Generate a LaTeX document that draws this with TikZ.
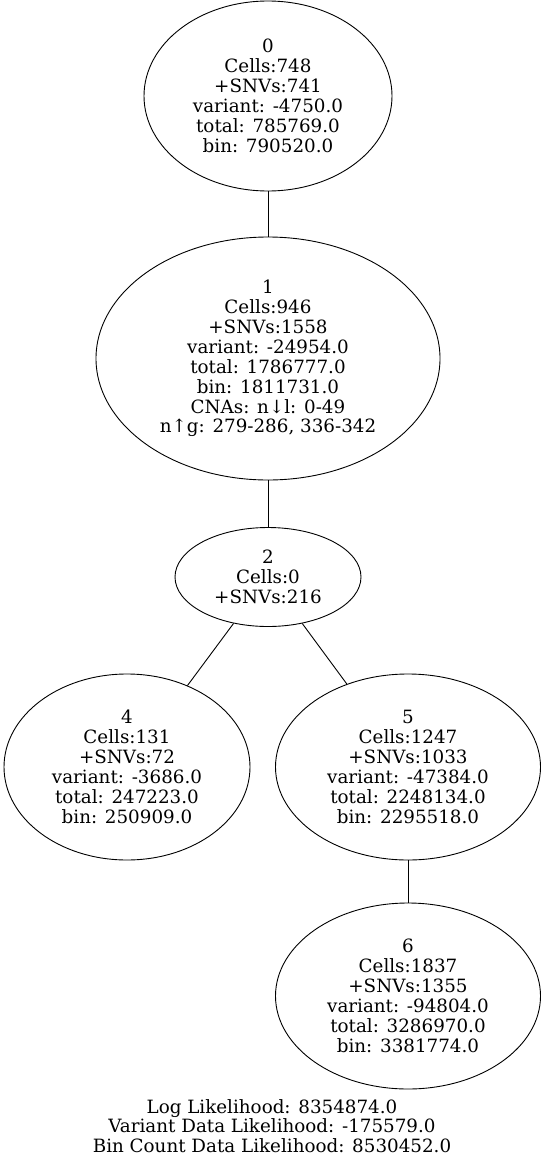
\documentclass[tikz,border=0pt]{standalone}
\usepackage{fontspec}
\setmainfont{DejaVu Serif}
\usetikzlibrary{shapes.geometric}
\begin{document}
\begin{tikzpicture}[x=1pt,y=-1pt,
  clone/.style={ellipse,draw,line width=0.9pt,inner sep=0pt,align=center,
    font=\fontsize{18.3}{19.9}\selectfont},
  link/.style={draw,line width=0.9pt}]
\useasboundingbox (0,0) rectangle (546,1164);
\fill[white] (0,0) rectangle (546,1164);
\node[clone,minimum width=248,minimum height=190] (n0) at (268,96)
  {0\\Cells:748\\+SNVs:741\\variant: -4750.0\\total: 785769.0\\bin: 790520.0};
\node[clone,minimum width=344,minimum height=243] (n1) at (268,358.5)
  {1\\Cells:946\\+SNVs:1558\\variant: -24954.0\\total: 1786777.0\\bin: 1811731.0\\CNAs: n↓l: 0-49\\n↑g: 279-286, 336-342};
\node[clone,minimum width=186,minimum height=99] (n2) at (268,577)
  {2\\Cells:0\\+SNVs:216};
\node[clone,minimum width=246,minimum height=186] (n4) at (127,767)
  {4\\Cells:131\\+SNVs:72\\variant: -3686.0\\total: 247223.0\\bin: 250909.0};
\node[clone,minimum width=265,minimum height=186] (n5) at (408,767)
  {5\\Cells:1247\\+SNVs:1033\\variant: -47384.0\\total: 2248134.0\\bin: 2295518.0};
\node[clone,minimum width=265,minimum height=186] (n6) at (408,996)
  {6\\Cells:1837\\+SNVs:1355\\variant: -94804.0\\total: 3286970.0\\bin: 3381774.0};
\draw[link] (n0) -- (n1);
\draw[link] (n1) -- (n2);
\draw[link] (n2) -- (n4);
\draw[link] (n2) -- (n5);
\draw[link] (n5) -- (n6);
\node[align=center,inner sep=0pt,font=\fontsize{18.3}{19.5}\selectfont] (summary) at (272,1126)
  {Log Likelihood: 8354874.0\\Variant Data Likelihood: -175579.0\\Bin Count Data Likelihood: 8530452.0};
\end{tikzpicture}
\end{document}
